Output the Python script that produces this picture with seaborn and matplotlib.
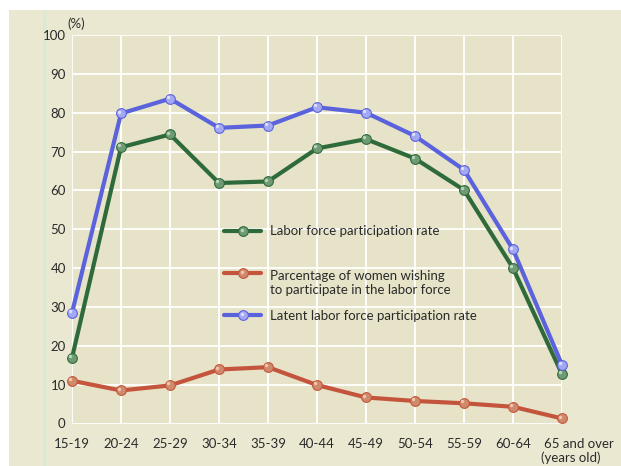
import matplotlib
matplotlib.use("Agg")
import matplotlib.pyplot as plt
from matplotlib.lines import Line2D
from matplotlib.patches import Rectangle
from matplotlib.transforms import ScaledTranslation
import numpy as np
import pandas as pd
import seaborn as sns

age_groups = ["15-19", "20-24", "25-29", "30-34", "35-39", "40-44",
              "45-49", "50-54", "55-59", "60-64", "65 and over"]
labor_force_rate = [16.9, 71.1, 74.4, 61.9, 62.3, 70.8, 73.2, 68.2, 60.1, 40.0, 12.7]
wishing_rate = [11.0, 8.5, 9.8, 13.9, 14.5, 9.9, 6.7, 5.8, 5.2, 4.3, 1.3]
latent_rate = [28.5, 79.8, 83.6, 76.1, 76.7, 81.4, 80.0, 74.0, 65.3, 44.8, 15.1]
y_ticks = [0, 10, 20, 30, 40, 50, 60, 70, 80, 90, 100]

series_names = ["Labor force participation rate",
                "Parcentage of women wishing\nto participate in the labor force",
                "Latent labor force participation rate"]
series_values = [labor_force_rate, wishing_rate, latent_rate]

df = pd.DataFrame({
    "pos": np.tile(np.arange(len(age_groups)), 3),
    "value": np.concatenate(series_values),
    "series": np.repeat(series_names, len(age_groups)),
})

line_colors = {series_names[0]: "#2f6b3a",
               series_names[1]: "#c4553c",
               series_names[2]: "#5a62dc"}
marker_colors = {series_names[0]: "#6e9a74",
                 series_names[1]: "#cf8a6c",
                 series_names[2]: "#a3a8f2"}
highlight_colors = {series_names[0]: "#b9d2bc",
                    series_names[1]: "#efc6ae",
                    series_names[2]: "#dcdffb"}

sns.set_theme(style="white")
plt.rcParams["font.family"] = ["Lato", "DejaVu Sans"]

W, H = 621, 466
fig = plt.figure(figsize=(W / 100, H / 100), dpi=100, facecolor="white")
# beige page panel behind everything
fig.patches.append(Rectangle((9 / W, 0), 1, 1 - 10 / H, transform=fig.transFigure,
                             facecolor="#ebe8d2", edgecolor="none", zorder=-10))
fig.patches.append(Rectangle((43 / W, 0), 4 / W, 1 - 10 / H, transform=fig.transFigure,
                             facecolor="#dfe8d2", edgecolor="none", zorder=-9))

ax = fig.add_axes([72 / W, 1 - 423.5 / H, (562 - 72) / W, (423.5 - 35) / H])
ax.set_facecolor("#e6e3c8")

sns.lineplot(data=df, x="pos", y="value", hue="series", hue_order=series_names,
             palette=line_colors, linewidth=3.0, legend=False, ax=ax, zorder=3,
             clip_on=False)
# spherical-looking markers
for name, vals in zip(series_names, series_values):
    ax.plot(range(len(vals)), vals, linestyle="none", marker="o", markersize=7,
            markerfacecolor=marker_colors[name], markeredgecolor=line_colors[name],
            markeredgewidth=0.8, zorder=4, clip_on=False)
    ax.plot(np.arange(len(vals)) - 0.04, np.array(vals) + 0.5, linestyle="none",
            marker="o", markersize=2.5, markerfacecolor=highlight_colors[name],
            markeredgecolor="none", zorder=5, clip_on=False)

ax.set_xlim(0, len(age_groups) - 1)
ax.set_ylim(0, 100)
ax.set_xticks(range(len(age_groups)))
ax.set_xticklabels(age_groups)
ax.set_yticks(y_ticks)
ax.set_yticklabels([str(t) for t in y_ticks])
ax.grid(True, color="white", linewidth=1.3)
ax.set_axisbelow(True)
for s in ax.spines.values():
    s.set_visible(False)
ax.tick_params(axis="both", length=0, labelsize=9.5, colors="#2a2a2a")
ax.tick_params(axis="x", pad=10.5)
ax.tick_params(axis="y", pad=4.5)
ax.set_xlabel("")
ax.set_ylabel("")

# the last category label sits a little to the right of its tick
last = ax.get_xticklabels()[-1]
last.set_transform(last.get_transform() + ScaledTranslation(12 / 72, 0, fig.dpi_scale_trans))

ax.text(0.08, 101.2, "(%)", fontsize=9.5, color="#2a2a2a", ha="center", va="bottom")
ax.text(10.17, -8.9, "(years old)", fontsize=9.5, color="#2a2a2a", ha="center", va="center")

# legend keys, placed in figure pixels
def px(x, y):
    return x / W, 1 - y / H

legend_rows = [(series_names[0], 231, 231),
               (series_names[1], 273, 283),
               (series_names[2], 315, 316)]
for name, key_y, text_y in legend_rows:
    x0, y0 = px(224, key_y)
    x1, _ = px(261, key_y)
    fig.add_artist(Line2D([x0, x1], [y0, y0], transform=fig.transFigure,
                          color=line_colors[name], linewidth=3.0, zorder=6))
    xm, _ = px(242.5, key_y)
    fig.add_artist(Line2D([xm], [y0], transform=fig.transFigure, linestyle="none",
                          marker="o", markersize=7, markerfacecolor=marker_colors[name],
                          markeredgecolor=line_colors[name], markeredgewidth=0.8, zorder=7))
    fig.add_artist(Line2D([xm - 0.6 / W * 1], [y0 + 0.8 / H], transform=fig.transFigure,
                          linestyle="none", marker="o", markersize=2.5,
                          markerfacecolor=highlight_colors[name],
                          markeredgecolor="none", zorder=8))
    tx, ty = px(270, text_y)
    fig.text(tx, ty, name, fontsize=9.5, color="#2a2a2a", ha="left", va="center",
             linespacing=1.25)

fig.savefig("out.png", dpi=100, facecolor=fig.get_facecolor())
